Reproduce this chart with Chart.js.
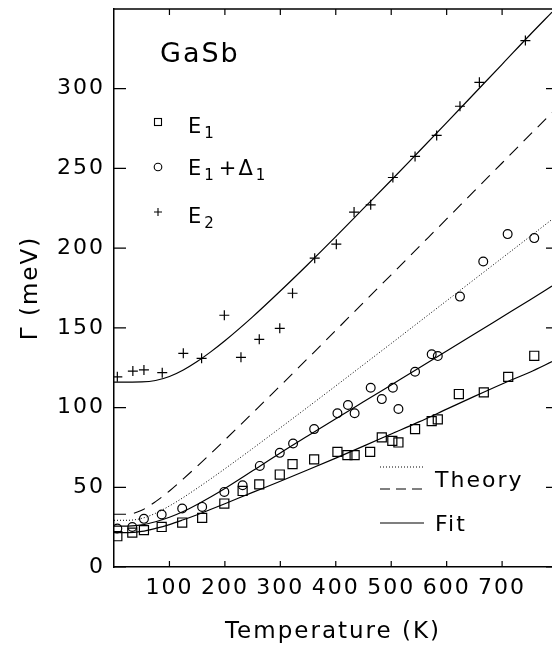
<!DOCTYPE html>
<html>
<head>
<meta charset="utf-8">
<script src="https://cdn.jsdelivr.net/npm/chart.js@4.4.0/dist/chart.umd.min.js"></script>
<style>
  html, body { margin: 0; padding: 0; background: #fff; }
</style>
</head>
<body>
<canvas id="gasbChart" width="552" height="646"></canvas>
<script>
// measured points, E1 (squares)
const e1T = [6, 33, 54, 86, 123, 159, 199, 232, 262, 299, 322, 361, 403, 421, 434, 462, 483, 502, 513, 543, 573, 584, 622, 667, 711, 758];
const e1G = [19.3, 21.6, 23.1, 25.1, 27.9, 30.8, 39.8, 47.7, 51.8, 58, 64.5, 67.5, 72.2, 70.2, 70.2, 72.2, 81.3, 79.1, 78.1, 86.5, 91.5, 92.6, 108.5, 109.5, 119.3, 132.5];

// E1+Delta1 (circles)
const e1dT = [6, 33, 54, 86, 123, 159, 199, 232, 263, 299, 323, 361, 403, 422, 434, 463, 483, 503, 513, 543, 573, 584, 624, 666, 710, 758];
const e1dG = [24.1, 25.1, 30.2, 32.9, 36.7, 37.7, 47.1, 51.3, 63.4, 71.6, 77.5, 86.5, 96.4, 101.6, 96.4, 112.4, 105.3, 112.4, 99.1, 122.5, 133.4, 132.3, 169.6, 191.6, 208.8, 206.3];

// E2 (plus)
const e2T = [6, 34, 54, 87, 125, 158, 199, 229, 262, 299, 322, 362, 401, 433, 463, 503, 543, 582, 624, 659, 742];
const e2G = [119.3, 122.9, 123.6, 121.9, 134, 130.9, 157.9, 131.5, 142.8, 149.7, 171.7, 193.7, 202.5, 222.6, 227.2, 244.3, 257.5, 270.7, 289, 304, 330.2];

// curves
const curveT = [0, 25, 50, 75, 100, 125, 150, 175, 200, 250, 300, 350, 400, 450, 500, 550, 600, 650, 700, 750, 790];
const fitE2 = [116, 116, 116.1, 117, 119.5, 123.6, 128.9, 135.1, 141.9, 156.9, 173.1, 189.9, 207.2, 224.9, 242.6, 260.6, 278.7, 297, 315.3, 333.7, 348];
const fitE1d = [25.6, 25.7, 26.4, 28.4, 31.2, 34.8, 39.2, 44, 49.2, 60.3, 71.5, 82.3, 93, 103.6, 114.2, 124.8, 135.5, 146.1, 156.8, 167.5, 176.2];
const fitE1 = [21.5, 21.5, 22.3, 24.2, 26.6, 29.6, 32.8, 36.2, 39.7, 46.8, 53.8, 61, 68.3, 75.8, 83.4, 91, 99, 107, 114.8, 122.2, 128.8];
const theoryDotted = [29.3, 29.3, 30.5, 33.7, 38.3, 43.6, 49.4, 55.4, 61.6, 74.3, 87.3, 100.4, 113.6, 126.9, 140.2, 153.6, 167, 180.4, 193.8, 207.2, 218];
const theoryDashed = [33.1, 33.1, 35.6, 41, 47.7, 55.3, 63.2, 71.3, 79.7, 96.6, 113.7, 131, 148.4, 165.9, 183.3, 200.8, 218.3, 235.9, 253.4, 271, 285];

const xTicks = [100, 200, 300, 400, 500, 600, 700];
const yTicks = [0, 50, 100, 150, 200, 250, 300];

const FONT = 'DejaVu Sans';
Chart.defaults.font.family = FONT;
Chart.defaults.color = '#000';

const pts = (xs, ys) => xs.map((x, i) => ({ x: x, y: ys[i] }));

const markerSet = (label, xs, ys, style, r) => ({
  label: label,
  data: pts(xs, ys),
  pointStyle: style,
  pointRadius: r,
  pointBorderWidth: 1.2,
  pointBorderColor: '#000',
  pointBackgroundColor: 'rgba(0,0,0,0)',
  showLine: false
});

const curveSet = (label, ys, dash, width) => ({
  label: label,
  data: pts(curveT, ys),
  showLine: true,
  pointRadius: 0,
  borderColor: '#000',
  borderWidth: width,
  borderDash: dash,
  cubicInterpolationMode: 'monotone',
  fill: false
});

// no extra room for edge labels, the frame is fixed
const noPad = s => { s.paddingTop = 0; s.paddingBottom = 0; s.paddingLeft = 0; s.paddingRight = 0; };

// subscripted labels: E_1 etc.
function drawSub(ctx, x, y, parts) {
  let cx = x;
  parts.forEach(p => {
    ctx.font = (p.sub ? '15px ' : '21px ') + FONT;
    ctx.fillText(p.t, cx, p.sub ? y + 5 : y);
    cx += ctx.measureText(p.t).width + (p.sub ? 3 : 1);
  });
}

const framePlugin = {
  id: 'frame',
  beforeDraw(chart) {
    chart.ctx.letterSpacing = '2px';
  },
  afterDraw(chart) {
    const ctx = chart.ctx;
    const a = chart.chartArea;
    const xs = chart.scales.x, ys = chart.scales.y;
    ctx.save();
    ctx.strokeStyle = '#000';
    ctx.fillStyle = '#000';
    ctx.lineWidth = 1.5;
    // top frame line
    ctx.beginPath();
    ctx.moveTo(a.left, a.top);
    ctx.lineTo(a.right, a.top);
    ctx.stroke();

    // inward ticks
    ctx.lineWidth = 1.2;
    ctx.beginPath();
    xTicks.forEach(v => {
      const px = xs.getPixelForValue(v);
      ctx.moveTo(px, a.bottom); ctx.lineTo(px, a.bottom - 6);
      ctx.moveTo(px, a.top); ctx.lineTo(px, a.top + 6);
    });
    yTicks.forEach(v => {
      const py = ys.getPixelForValue(v);
      ctx.moveTo(a.left, py); ctx.lineTo(a.left + 12, py);
      ctx.moveTo(a.right, py); ctx.lineTo(a.right - 6, py);
    });
    ctx.stroke();

    // title
    ctx.textBaseline = 'alphabetic';
    ctx.textAlign = 'left';
    ctx.font = '27px ' + FONT;
    ctx.fillText('GaSb', 160, 62);

    // symbol legend
    ctx.lineWidth = 1.1;
    ctx.strokeRect(154.5, 118.5, 7, 7);
    ctx.beginPath();
    ctx.arc(158, 167, 3.8, 0, Math.PI * 2);
    ctx.stroke();
    ctx.beginPath();
    ctx.moveTo(154, 212); ctx.lineTo(162, 212);
    ctx.moveTo(158, 208); ctx.lineTo(158, 216);
    ctx.stroke();

    drawSub(ctx, 188, 133, [{ t: 'E' }, { t: '1', sub: true }]);
    drawSub(ctx, 188, 175, [{ t: 'E' }, { t: '1', sub: true }, { t: '+Δ' }, { t: '1', sub: true }]);
    drawSub(ctx, 188, 223, [{ t: 'E' }, { t: '2', sub: true }]);

    // line legend
    ctx.lineWidth = 1;
    ctx.setLineDash([1, 2]);
    ctx.beginPath(); ctx.moveTo(380, 467); ctx.lineTo(423, 467); ctx.stroke();
    ctx.setLineDash([10, 6]);
    ctx.beginPath(); ctx.moveTo(380, 489); ctx.lineTo(425, 489); ctx.stroke();
    ctx.setLineDash([]);
    ctx.lineWidth = 1.2;
    ctx.beginPath(); ctx.moveTo(380, 523); ctx.lineTo(424, 523); ctx.stroke();
    ctx.font = '22px ' + FONT;
    ctx.fillText('Theory', 435, 487);
    ctx.fillText('Fit', 435, 531);
    ctx.restore();
  }
};

new Chart(document.getElementById('gasbChart').getContext('2d'), {
  type: 'scatter',
  data: {
    datasets: [
      markerSet('E1', e1T, e1G, 'rect', 6.4),
      markerSet('E1+Δ1', e1dT, e1dG, 'circle', 4.4),
      markerSet('E2', e2T, e2G, 'cross', 5),
      curveSet('Fit E2', fitE2, [], 1.2),
      curveSet('Fit E1+Δ1', fitE1d, [], 1.2),
      curveSet('Fit E1', fitE1, [], 1.2),
      curveSet('Theory (dotted)', theoryDotted, [1, 2], 1),
      curveSet('Theory (dashed)', theoryDashed, [12, 8], 1.1)
    ]
  },
  options: {
    responsive: false,
    animation: false,
    devicePixelRatio: 1,
    layout: { autoPadding: false, padding: { top: 9, right: 0, left: 0, bottom: 0 } },
    plugins: {
      legend: { display: false },
      tooltip: { enabled: false }
    },
    scales: {
      x: {
        type: 'linear',
        min: 0,
        max: 790,
        afterBuildTicks: s => { s.ticks = xTicks.map(v => ({ value: v })); },
        afterFit: s => { s.height = 79; noPad(s); },
        grid: { display: false, drawTicks: false },
        border: { display: true, color: '#000', width: 1.5 },
        ticks: { padding: 8, autoSkip: false, maxRotation: 0, font: { size: 22 }, color: '#000' },
        title: { display: true, text: 'Temperature (K)', font: { size: 23 }, color: '#000', padding: { top: 0, bottom: 0 } }
      },
      y: {
        type: 'linear',
        min: 0,
        max: 350,
        afterBuildTicks: s => { s.ticks = yTicks.map(v => ({ value: v })); },
        afterFit: s => { s.width = 114; noPad(s); },
        grid: { display: false, drawTicks: false },
        border: { display: true, color: '#000', width: 1.5 },
        ticks: { padding: 9, font: { size: 22 }, color: '#000' },
        title: { display: true, text: 'Γ (meV)', font: { size: 23 }, color: '#000', padding: { top: 17, bottom: 0 } }
      }
    }
  },
  plugins: [framePlugin]
});
</script>
</body>
</html>
